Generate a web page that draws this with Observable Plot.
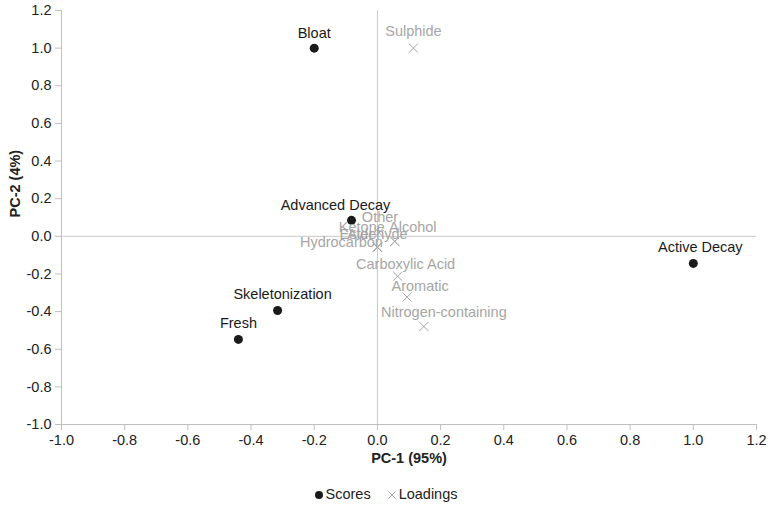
<!DOCTYPE html>
<html>
<head>
<meta charset="utf-8">
<script src="https://cdn.jsdelivr.net/npm/d3@7"></script>
<script src="https://cdn.jsdelivr.net/npm/@observablehq/plot@0.6"></script>
<style>
  body { margin: 0; background: #fff; font-family: "Liberation Sans", Arial, sans-serif; }
  #legend { position: absolute; top: 486px; left: 0; width: 771px; text-align: center; font-size: 14.5px; color: #222; }
  #legend svg { vertical-align: -1px; }
  #legend .gap { display: inline-block; width: 16px; }
</style>
</head>
<body>
<div id="chart"></div>
<div id="legend">
  <svg width="10" height="10"><circle cx="5" cy="5" r="4" fill="#1a1a1a"></circle></svg><span style="margin-left:2px">Scores</span><span class="gap"></span><svg width="10" height="10"><path d="M1.5,1.5L8.5,8.5M8.5,1.5L1.5,8.5" stroke="#a6a6a6" stroke-width="1"></path></svg><span style="margin-left:2px">Loadings</span>
</div>
<script>
// Scores (sample stages)
const scoreNames = ["Bloat", "Advanced Decay", "Active Decay", "Skeletonization", "Fresh"];
const scorePC1 = [-0.2, -0.082, 1.0, -0.316, -0.44];
const scorePC2 = [1.0, 0.085, -0.144, -0.394, -0.548];

// Loadings (compound classes)
const loadingNames = ["Sulphide", "Other", "Ketone", "Alcohol", "Aldehyde", "Ester", "Hydrocarbon", "Carboxylic Acid", "Aromatic", "Nitrogen-containing"];
const loadingPC1 = [0.114, 0.005, 0.055, 0.055, 0.0, 0.0, 0.0, 0.064, 0.094, 0.147];
const loadingPC2 = [1.0, 0.02, -0.027, -0.027, -0.058, -0.058, -0.058, -0.212, -0.323, -0.479];

// Axis ticks
const ticks = [-1.0, -0.8, -0.6, -0.4, -0.2, 0.0, 0.2, 0.4, 0.6, 0.8, 1.0, 1.2];

// label offsets (style only)
const scoreLabelDx = [0, -16, 7, 5, 0];
const scoreLabelDy = [-15, -15, -16, -16, -16];
const loadingLabelDx = [0, 1, -33, 18, 0, -21, -36, 8, 13, 20];
const loadingLabelDy = [-17, -15, -14, -14, -13, -13, -5, -12, -11, -14];

const scores = scoreNames.map((n, i) => ({name: n, x: scorePC1[i], y: scorePC2[i]}));
const loadings = loadingNames.map((n, i) => ({name: n, x: loadingPC1[i], y: loadingPC2[i]}));

const fmt = d => d.toFixed(1);
const axisGray = "#bfbfbf";
const fs = 14.5;

const chart = Plot.plot({
  width: 771,
  height: 475,
  marginLeft: 61,
  marginRight: 15,
  marginTop: 10,
  marginBottom: 51,
  style: {fontFamily: "'Liberation Sans', Arial, sans-serif", fontSize: fs + "px", color: "#222", background: "#fff"},
  x: {domain: [-1, 1.2]},
  y: {domain: [-1, 1.2]},
  marks: [
    Plot.ruleX([0], {stroke: "#c8c8c8", strokeWidth: 1}),
    Plot.ruleY([0], {stroke: "#c8c8c8", strokeWidth: 1}),
    Plot.ruleX([-1], {stroke: axisGray}),
    Plot.ruleY([-1], {stroke: axisGray}),
    Plot.axisX({ticks, tickSize: 6, tickFormat: () => "", stroke: axisGray, label: null}),
    Plot.axisY({ticks, tickSize: 6, tickFormat: () => "", stroke: axisGray, label: null}),
    Plot.axisX({ticks, tickSize: 0, tickPadding: 10, tickFormat: fmt, label: null, fill: "#222", fontSize: fs}),
    Plot.axisY({ticks, tickSize: 0, tickPadding: 10, tickFormat: fmt, label: null, fill: "#222", fontSize: fs}),
    Plot.text(["PC-1 (95%)"], {frameAnchor: "bottom", dy: 38, fontWeight: "bold", fontSize: fs, fill: "#222"}),
    Plot.text(["PC-2 (4%)"], {frameAnchor: "left", rotate: -90, dx: -46, fontWeight: "bold", fontSize: fs, fill: "#222"}),
    Plot.dot(loadings, {x: "x", y: "y", symbol: "times", r: 4.2, stroke: "#a6a6a6", strokeWidth: 1}),
    Plot.dot(scores, {x: "x", y: "y", r: 4.5, fill: "#1a1a1a"}),
    ...loadings.map((d, i) => Plot.text([d], {x: "x", y: "y", text: "name", dx: loadingLabelDx[i], dy: loadingLabelDy[i], fill: "#a6a6a6", fontSize: fs})),
    ...scores.map((d, i) => Plot.text([d], {x: "x", y: "y", text: "name", dx: scoreLabelDx[i], dy: scoreLabelDy[i], fill: "#1a1a1a", fontSize: fs}))
  ]
});
document.getElementById("chart").appendChild(chart);
</script>
</body>
</html>
